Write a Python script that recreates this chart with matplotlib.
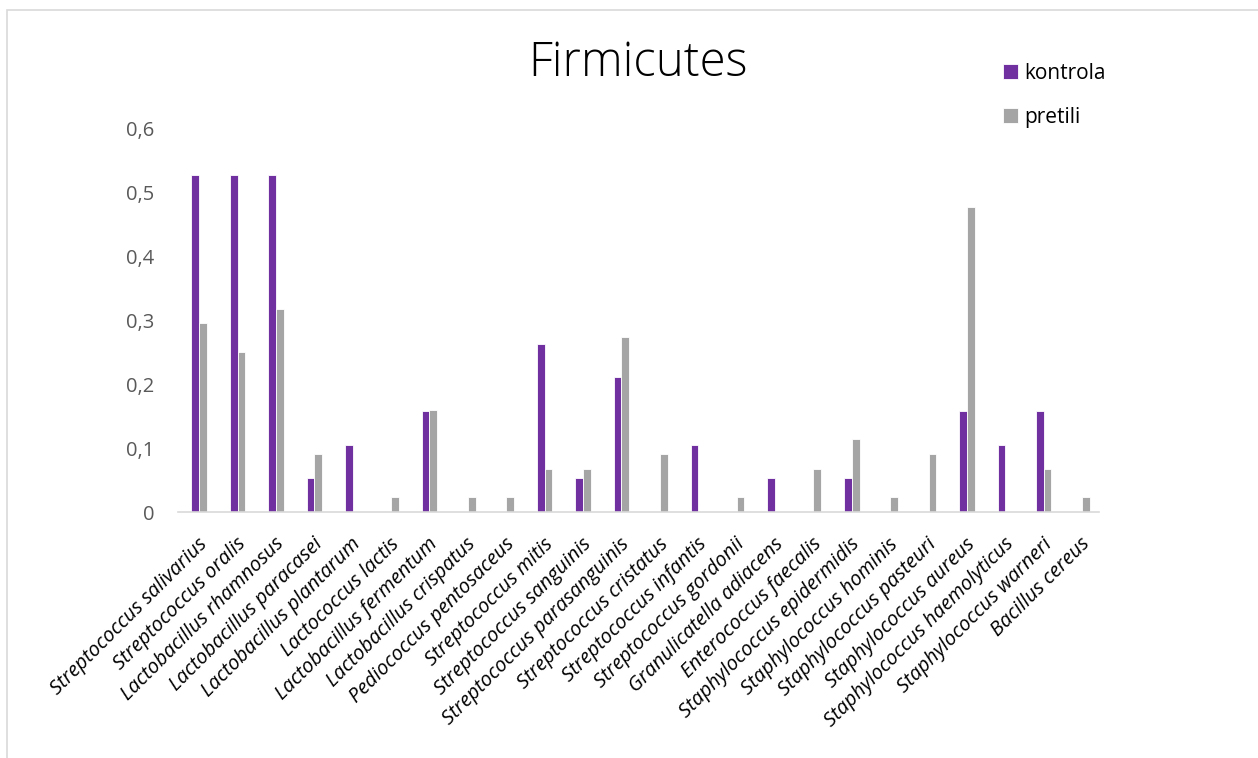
import numpy as np
import matplotlib
matplotlib.use("Agg")
from matplotlib import pyplot as plt
from matplotlib.patches import Rectangle

species = [
    "Streptococcus salivarius", "Streptococcus oralis", "Lactobacillus rhamnosus",
    "Lactobacillus paracasei", "Lactobacillus plantarum", "Lactococcus lactis",
    "Lactobacillus fermentum", "Lactobacillus crispatus", "Pediococcus pentosaceus",
    "Streptococcus mitis", "Streptococcus sanguinis", "Streptococcus parasanguinis",
    "Streptococcus cristatus", "Streptococcus infantis", "Streptococcus gordonii",
    "Granulicatella adiacens", "Enterococcus faecalis", "Staphylococcus epidermidis",
    "Staphylococcus hominis", "Staphylococcus pasteuri", "Staphylococcus aureus",
    "Staphylococcus haemolyticus", "Staphylococcus warneri", "Bacillus cereus",
]
kontrola = [0.526, 0.526, 0.526, 0.053, 0.105, 0, 0.158, 0, 0, 0.263, 0.053, 0.211,
            0, 0.105, 0, 0.053, 0, 0.053, 0, 0, 0.158, 0.105, 0.158, 0]
pretili = [0.295, 0.25, 0.318, 0.091, 0, 0.023, 0.159, 0.023, 0.023, 0.068, 0.068, 0.273,
           0.091, 0, 0.023, 0, 0.068, 0.114, 0.023, 0.091, 0.477, 0, 0.068, 0.023]
y_ticks = [0, 0.1, 0.2, 0.3, 0.4, 0.5, 0.6]

plt.rcParams['font.family'] = ['Open Sans', 'DejaVu Sans']

fig = plt.figure(figsize=(12.58, 7.58), dpi=100)
ax = fig.add_axes([0.1415, 0.3245, 0.7325, 0.5065])

# chart area border like Excel
fig.patches.append(Rectangle((7 / 1258, -0.01), 1.1, 1 - 10 / 758 + 0.01,
                             transform=fig.transFigure, fill=False,
                             edgecolor='#D9D9D9', linewidth=1.2))

x = np.arange(len(species))
w = 0.2
ax.bar(x - w / 2 + 0.05, kontrola, w, color='#7030A0', edgecolor='white',
       linewidth=0.6, label='kontrola')
ax.bar(x + w / 2 + 0.05, pretili, w, color='#A5A5A5', edgecolor='white',
       linewidth=0.6, label='pretili')

ax.set_xlim(-0.5, len(species) - 0.5)
ax.set_ylim(0, 0.6)
ax.set_yticks(y_ticks)
ax.set_yticklabels([str(t).replace('.', ',') for t in y_ticks])
ax.tick_params(axis='y', length=0, labelsize=14.5, labelcolor='#595959', pad=17)
ax.set_xticks(x)
ax.set_xticklabels(species, rotation=45, ha='right', rotation_mode='anchor',
                   fontsize=14.5, style='italic', color='black')
ax.tick_params(axis='x', length=0, pad=16)

for s in ['top', 'right', 'left']:
    ax.spines[s].set_visible(False)
ax.spines['bottom'].set_color('#D9D9D9')
ax.spines['bottom'].set_linewidth(1.2)

fig.text(638 / 1258, 1 - 64 / 758, 'Firmicutes', ha='center', va='center',
         fontsize=34, color='black', fontweight='light')

fig.legend(loc='upper left', bbox_to_anchor=(984 / 1258, 1 - 44 / 758),
           frameon=False, fontsize=15, handlelength=0.75, handleheight=0.75,
           handletextpad=0.3, labelspacing=1.1)

fig.savefig('out.png', dpi=100)
